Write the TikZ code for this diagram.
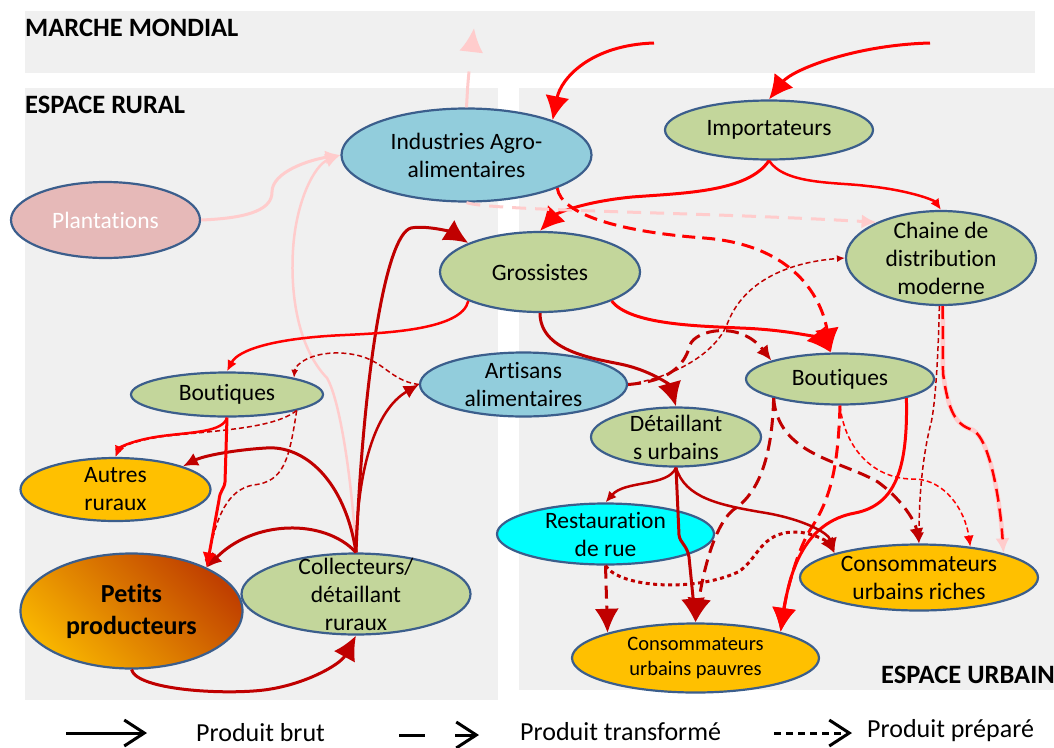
\documentclass[tikz,border=0pt]{standalone}
\usepackage{fontspec}
\setmainfont{Carlito}[Ligatures=NoCommon]
\usetikzlibrary{shapes.geometric,arrows.meta}

\definecolor{fond}{HTML}{F0F0F0}
\definecolor{bord}{HTML}{3B5E8C}
\definecolor{vert}{HTML}{C3D69B}
\definecolor{bleu}{HTML}{92CDDC}
\definecolor{rosefond}{HTML}{E6B9B8}
\definecolor{jaune}{HTML}{FFC000}
\definecolor{cyanfond}{HTML}{00FFFF}
\definecolor{rouge}{HTML}{FF0000}
\definecolor{fonce}{HTML}{C00000}
\definecolor{rosetrait}{HTML}{FFCCCC}
\definecolor{prodclair}{HTML}{F8B400}
\definecolor{prodfonce}{HTML}{C04000}

\begin{document}
\begin{tikzpicture}[x=1pt, y=-1pt,
  bulle/.style={ellipse, draw=bord, line width=2.2pt, inner sep=0pt},
  txt/.style={align=center, font=\fontsize{23.5}{28}\selectfont},
  titre/.style={anchor=base west, inner sep=0pt, font=\bfseries\fontsize{26.5}{30}\selectfont},
  legende/.style={anchor=base west, inner sep=0pt, font=\fontsize{26}{30}\selectfont},
  epais/.style={line width=3pt},
  moyen/.style={line width=2.5pt},
  fin/.style={line width=1.5pt},
  tiret/.style={dash pattern=on 13pt off 7pt},
  tiretfin/.style={dash pattern=on 5pt off 3pt},
  pointille/.style={dash pattern=on 4pt off 3.5pt},
  flecheG/.style={-{Latex[length=24pt,width=24pt]}},
  flecheM/.style={-{Latex[length=15pt,width=14pt]}},
  flecheP/.style={-{Latex[length=11pt,width=10pt]}},
  flecheT/.style={-{Latex[length=8pt,width=7pt]}}]
\useasboundingbox (0,0) rectangle (1054,747);
% Espaces
\fill[fond] (25,11) rectangle (1035,73);
\fill[fond] (25,88) rectangle (498,700);
\fill[fond] (519,88) rectangle (1054,690);
\node[titre] (tmm) at (25,36) {MARCHE MONDIAL};
\node[titre] (tru) at (25,113) {ESPACE RURAL};
\node[titre] (tur) at (881,683) {ESPACE URBAIN};
\coordinate (wm1) at (654,43);
\coordinate (wm2) at (930,43);
\coordinate (wm3) at (474,28);

% Acteurs
\node[bulle, fill=bleu, minimum width=250pt, minimum height=93pt,
  label={[txt]center:{Industries Agro-\\alimentaires}}] (ind) at (466.5,155) {};
\node[bulle, fill=vert, minimum width=208pt, minimum height=59pt,
  label={[txt]center:Importateurs}] (imp) at (769,130) {};
\node[bulle, fill=rosefond, minimum width=189pt, minimum height=76pt,
  label={[txt, text=white]center:Plantations}] (plant) at (105.5,220) {};
\node[bulle, fill=vert, minimum width=200pt, minimum height=80pt,
  label={[txt]center:Grossistes}] (gros) at (540,272) {};
\node[bulle, fill=vert, minimum width=190pt, minimum height=94pt,
  label={[txt]center:{Chaine de\\distribution\\moderne}}] (chaine) at (941,258) {};
\node[bulle, fill=bleu, minimum width=207pt, minimum height=64pt,
  label={[txt]center:{Artisans\\alimentaires}}] (art) at (523.5,384.5) {};
\node[bulle, fill=vert, minimum width=192pt, minimum height=44pt,
  label={[txt]center:Boutiques}] (boutR) at (227,394.5) {};
\node[bulle, fill=vert, minimum width=188pt, minimum height=51pt,
  label={[txt]center:Boutiques}] (boutU) at (840,379) {};
\node[bulle, fill=vert, minimum width=170pt, minimum height=59pt,
  label={[txt]center:{Détaillant\\s urbains}}] (detU) at (676,437) {};
\node[bulle, fill=jaune, minimum width=190pt, minimum height=63pt,
  label={[txt]center:{Autres\\ruraux}}] (autres) at (115.5,489.5) {};
\node[bulle, top color=prodfonce, bottom color=prodclair, shading angle=-45,
  minimum width=222pt, minimum height=115pt,
  label={[txt, font=\bfseries\fontsize{26}{32}\selectfont]center:{Petits\\producteurs}}] (petits) at (131.5,611) {};
\node[bulle, fill=vert, minimum width=229pt, minimum height=81pt,
  label={[txt]center:{Collecteurs/\\détaillant\\ruraux}}] (coll) at (356,594) {};
\node[bulle, fill=cyanfond, minimum width=217pt, minimum height=61pt,
  label={[txt]center:{Restauration\\de rue}}] (resto) at (605.5,534) {};
\node[bulle, fill=jaune, minimum width=247pt, minimum height=69pt,
  label={[txt, font=\fontsize{20.5}{25}\selectfont]center:{Consommateurs\\urbains pauvres}}] (pauvres) at (695.5,658) {};
\node[bulle, fill=jaune, minimum width=238pt, minimum height=66pt,
  label={[txt]center:{Consommateurs\\urbains riches}}] (riches) at (919,577.5) {};

% Marche mondial
\draw[rouge, epais, flecheG] (wm1) .. controls (591,45) and (561,78) .. (ind.22);
\draw[rouge, epais, flecheG] (wm2) .. controls (854,45) and (792,70) .. (imp.north);
\draw[rosetrait, epais, dash pattern=on 36pt off 30pt, flecheG] (ind.north) .. controls (468,80) .. (wm3);

% Espace rural
\draw[rosetrait, epais, flecheM] (plant.east) .. controls (253,218) and (272,208) .. (272,192)
  .. controls (272,172) and (309,160) .. (ind.west);
\draw[rosetrait, moyen, flecheM] (coll.north) .. controls (352,480) and (340,400) .. (327,378)
  .. controls (300,350) and (290,300) .. (293,250) .. controls (296,200) and (315,165) .. (ind.west);
\draw[fonce, epais, flecheG] (coll.north) .. controls (363,380) and (385,235) .. (411,228)
  .. controls (426,225) and (451,232) .. (gros.158);
\draw[fonce, moyen, flecheM] (coll.north) .. controls (357,470) and (375,410) .. (art.west);
\draw[fonce, epais, flecheM] (coll.north) .. controls (345,480) and (304,445) .. (266,448)
  .. controls (233,450) and (203,456) .. (autres.19);
\draw[fonce, epais, flecheM] (coll.north) .. controls (324,518) and (253,520) .. (petits.30);
\draw[fonce, epais, flecheG] (petits.south) .. controls (137,690) and (223,695) .. (264,690)
  .. controls (304,685) and (340,665) .. (coll.south);
\draw[rouge, moyen, flecheP] (gros.202) .. controls (462,330) and (385,333) .. (345,335)
  .. controls (274,338) and (238,350) .. (boutR.north);
\draw[fonce, fin, tiretfin, flecheT] (boutR.347) .. controls (274,428) and (223,430) .. (167,436)
  .. controls (134,440) and (119,448) .. (autres.north);
\draw[fonce, fin, tiretfin, flecheT] (boutR.347) .. controls (289,460) and (284,482) .. (253,485)
  .. controls (228,490) and (216,515) .. (petits.30);
\draw[rouge, moyen, flecheP] (boutR.south) .. controls (223,432) and (193,432) .. (162,436)
  .. controls (132,440) and (119,448) .. (autres.north);
\draw[rouge, epais, flecheM] (boutR.south) -- (225,482) .. controls (224,490) and (220,490) .. (219,500) -- (petits.30);
\draw[fonce, fin, tiretfin, flecheT] (art.west) .. controls (385,380) and (385,355) .. (340,353)
  .. controls (310,352) and (295,365) .. (boutR.14);

% Espace urbain
\draw[rouge, epais, flecheG] (imp.south) .. controls (748,192) and (684,193) .. (632,197)
  .. controls (581,202) and (556,214) .. (gros.north);
\draw[rouge, moyen, flecheP] (imp.south) .. controls (785,185) and (837,182) .. (867,186)
  .. controls (908,190) and (934,200) .. (chaine.north);
\draw[rosetrait, epais, dash pattern=on 14pt off 9pt, flecheM] (ind.south) .. controls (490,211) and (704,212) .. (chaine.151);
\draw[rouge, epais, tiret, flecheG] (ind.340) .. controls (561,215) and (622,232) .. (704,238)
  .. controls (796,245) and (822,300) .. (boutU.109);
\draw[fonce, epais, flecheG] (gros.south) .. controls (540,350) and (590,358) .. (620,364)
  .. controls (650,370) and (670,385) .. (detU.north);
\draw[rouge, epais, flecheG] (gros.338) .. controls (630,325) and (700,326) .. (740,328)
  .. controls (796,330) and (821,340) .. (boutU.109);
\draw[fonce, epais, tiret, flecheM] (art.east) .. controls (660,382) and (683,372) .. (690,345)
  .. controls (695,330) and (740,320) .. (boutU.165);
\draw[fonce, fin, tiretfin, flecheT] (art.east) .. controls (680,376) and (718,350) .. (728,322)
  .. controls (745,280) and (790,262) .. (chaine.west);
\draw[rosetrait, line width=4.5pt, -{Latex[length=15pt,width=14pt,fill=rosetrait]},
  postaction={draw=rouge, line width=2.5pt, tiret, -, shorten >=14pt}]
  (chaine.272) -- (943,373) .. controls (948,410) and (955,425) .. (973,430)
  .. controls (990,440) and (1000,500) .. (riches.16);
\draw[fonce, fin, tiretfin, flecheP] (chaine.268) .. controls (938,370) and (934,415) .. (930,427)
  .. controls (922,460) and (919,500) .. (riches.north);
\draw[fonce, epais, tiret, flecheM] (boutU.196) .. controls (778,455) and (840,460) .. (878,482)
  .. controls (900,498) and (915,520) .. (riches.north);
\draw[fonce, epais, tiret, flecheG] (boutU.196) .. controls (772,470) and (752,498) .. (733,510)
  .. controls (712,528) and (702,580) .. (pauvres.north);
\draw[rouge, epais, tiret, flecheG] (boutU.south) .. controls (838,470) and (830,500) .. (810,530)
  .. controls (795,555) and (785,600) .. (pauvres.17);
\draw[rouge, fin, tiretfin, flecheP] (boutU.south) .. controls (845,450) and (875,480) .. (915,479)
  .. controls (945,480) and (965,510) .. (riches.31);
\draw[rouge, epais, flecheG] (boutU.344) .. controls (908,470) and (895,505) .. (855,513)
  .. controls (805,522) and (790,570) .. (pauvres.17);
\draw[fonce, moyen, flecheP] (detU.south) .. controls (668,487) and (625,480) .. (resto.north);
\draw[fonce, epais, flecheG] (detU.south) -- (679,535) .. controls (680,543) and (687,545) .. (689,557) -- (pauvres.north);
\draw[fonce, moyen, flecheM] (detU.south) .. controls (685,498) and (720,505) .. (760,512)
  .. controls (800,518) and (828,532) .. (riches.164);
\draw[fonce, epais, tiret, flecheG] (resto.south) -- (pauvres.164);
\draw[fonce, epais, pointille, flecheM] (resto.south) .. controls (620,588) and (695,592) .. (738,572)
  .. controls (758,560) and (760,532) .. (795,532) .. controls (812,532) and (828,542) .. (riches.164);

% Legende
\coordinate (lb1) at (66,733);
\coordinate (lb2) at (147,733);
\coordinate (lt1) at (399,735);
\coordinate (lt2) at (479,735);
\coordinate (lp1) at (774,733);
\coordinate (lp2) at (852,733);
\draw[line width=3pt, -{Straight Barb[length=20pt,width=26pt]}] (lb1) -- (lb2);
\draw[line width=3pt, dash pattern=on 26pt off 30pt, -{Straight Barb[length=20pt,width=26pt]}] (lt1) -- (lt2);
\draw[line width=3pt, dash pattern=on 7pt off 5pt, -{Straight Barb[length=20pt,width=26pt]}] (lp1) -- (lp2);
\node[legende] (lg1) at (196,741) {Produit brut};
\node[legende] (lg2) at (520,740) {Produit transformé};
\node[legende] (lg3) at (867,737) {Produit préparé};
\end{tikzpicture}
\end{document}
